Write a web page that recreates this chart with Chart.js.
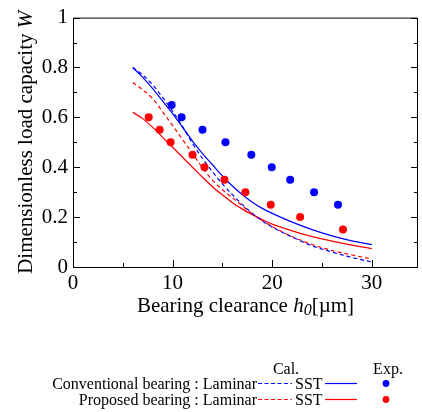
<!DOCTYPE html>
<html>
<head>
<meta charset="utf-8">
<script src="https://cdn.jsdelivr.net/npm/chart.js@4"></script>
<style>
  html, body { margin: 0; padding: 0; background: #fff; }
  #loadChart { display: block; }
</style>
</head>
<body>
<canvas id="loadChart" width="422" height="412"></canvas>
<script>
// bearing clearance h0 [um] for the calculated curves
const xCurve = [6, 7, 8, 9, 10, 11, 12, 13, 14, 15, 16, 17, 18, 19, 20, 22, 24, 26, 28, 30];

// calculated W
const convLaminar = [0.80, 0.77, 0.73, 0.68, 0.625, 0.563, 0.495, 0.435, 0.382, 0.333, 0.29, 0.25, 0.215, 0.185, 0.16, 0.12, 0.085, 0.06, 0.038, 0.02];
const convSST     = [0.80, 0.76, 0.715, 0.665, 0.615, 0.56, 0.505, 0.455, 0.41, 0.365, 0.325, 0.29, 0.26, 0.235, 0.215, 0.18, 0.15, 0.125, 0.105, 0.09];
const propLaminar = [0.74, 0.71, 0.675, 0.622, 0.567, 0.511, 0.455, 0.398, 0.348, 0.31, 0.278, 0.245, 0.213, 0.186, 0.162, 0.122, 0.09, 0.066, 0.048, 0.033];
const propSST     = [0.62, 0.595, 0.56, 0.52, 0.48, 0.44, 0.40, 0.36, 0.322, 0.289, 0.258, 0.232, 0.21, 0.19, 0.172, 0.145, 0.122, 0.104, 0.088, 0.074];

// experiments
const convExpX = [9.9, 10.9, 13.0, 15.3, 17.9, 19.95, 21.8, 24.2, 26.6];
const convExpW = [0.65, 0.60, 0.55, 0.50, 0.45, 0.40, 0.35, 0.30, 0.25];
const propExpX = [7.6, 8.7, 9.8, 12.0, 13.2, 15.2, 17.3, 19.85, 22.8, 27.1];
const propExpW = [0.60, 0.55, 0.50, 0.45, 0.40, 0.35, 0.30, 0.25, 0.20, 0.15];

// axis ticks
const xTicks = [0, 10, 20, 30];
const yTicks = [0, 0.2, 0.4, 0.6, 0.8, 1];
const yTickLabels = ['0', '0.2', '0.4', '0.6', '0.8', '1'];

const BLUE = '#0000ff';
const RED = '#ff0000';
const SERIF = '"Liberation Serif", "DejaVu Serif", serif';

const pts = (xs, ys) => xs.map((x, i) => ({ x: x, y: ys[i] }));

function curve(ys, color, dashed) {
    return {
        data: pts(xCurve, ys),
        showLine: true,
        borderColor: color,
        borderWidth: 1.2,
        borderDash: dashed ? [4, 3] : [],
        pointRadius: 0,
        cubicInterpolationMode: 'monotone',
        fill: false
    };
}

function dots(xs, ys, color) {
    return {
        data: pts(xs, ys),
        showLine: false,
        backgroundColor: color,
        borderWidth: 0,
        pointRadius: 4
    };
}

// draw text pieces with different fonts one after another
function drawRuns(ctx, runs, x, y, align) {
    let total = 0;
    runs.forEach(r => { ctx.font = r.font; total += ctx.measureText(r.text).width; });
    let cx = align === 'center' ? x - total / 2 : (align === 'right' ? x - total : x);
    ctx.textBaseline = 'alphabetic';
    ctx.textAlign = 'left';
    runs.forEach(r => {
        ctx.font = r.font;
        ctx.fillText(r.text, cx, y + (r.dy || 0));
        cx += ctx.measureText(r.text).width;
    });
}

const framePlugin = {
    id: 'frame',
    afterDraw(chart) {
        const ctx = chart.ctx;
        const a = chart.chartArea;
        const xs = chart.scales.x, ys = chart.scales.y;
        ctx.save();
        ctx.strokeStyle = '#000';
        ctx.lineWidth = 1;

        // box
        ctx.beginPath();
        ctx.rect(a.left + 0.5, a.top + 0.5, a.right - a.left - 1, a.bottom - a.top);
        ctx.stroke();

        // inward ticks
        ctx.beginPath();
        for (let i = 0; i <= 10; i++) {
            const py = Math.round(ys.getPixelForValue(i / 10)) + 0.5;
            const len = i % 2 === 0 ? 7 : 4;
            ctx.moveTo(a.left, py); ctx.lineTo(a.left + len, py);
            ctx.moveTo(a.right, py); ctx.lineTo(a.right - len, py);
        }
        for (let v = 0; v <= 30; v += 5) {
            const px = Math.round(xs.getPixelForValue(v)) + 0.5;
            const len = v % 10 === 0 ? 7 : 4;
            ctx.moveTo(px, a.bottom); ctx.lineTo(px, a.bottom - len);
        }
        ctx.stroke();

        ctx.fillStyle = '#000';
        // x title
        drawRuns(ctx, [
            { text: 'Bearing clearance ', font: '21px ' + SERIF },
            { text: 'h', font: 'italic 21px ' + SERIF },
            { text: '0', font: 'italic 16px ' + SERIF, dy: 3 },
            { text: '[\u00b5m]', font: '21px ' + SERIF }
        ], (a.left + a.right) / 2, 312, 'center');

        // y title
        ctx.save();
        ctx.translate(32, (a.top + a.bottom) / 2);
        ctx.rotate(-Math.PI / 2);
        drawRuns(ctx, [
            { text: 'Dimensionless load capacity ', font: '21px ' + SERIF },
            { text: 'W', font: 'italic 21px ' + SERIF }
        ], 0, 0, 'center');
        ctx.restore();

        // legend
        const lf = '16px ' + SERIF;
        ctx.font = lf;
        ctx.textAlign = 'center';
        ctx.fillText('Cal.', 286, 374);
        ctx.fillText('Exp.', 388, 374);
        const rows = [
            { label: 'Conventional bearing : Laminar', color: BLUE, y: 389 },
            { label: 'Proposed bearing : Laminar', color: RED, y: 405 }
        ];
        rows.forEach(r => {
            ctx.font = lf;
            ctx.fillStyle = '#000';
            ctx.textAlign = 'right';
            ctx.fillText(r.label, 257, r.y);
            ctx.textAlign = 'left';
            ctx.fillText('SST', 295, r.y);
            const ly = r.y - 5.5;
            ctx.strokeStyle = r.color;
            ctx.lineWidth = 1.2;
            ctx.setLineDash([4, 2.5]);
            ctx.beginPath(); ctx.moveTo(258, ly); ctx.lineTo(292, ly); ctx.stroke();
            ctx.setLineDash([]);
            ctx.beginPath(); ctx.moveTo(325, ly); ctx.lineTo(357, ly); ctx.stroke();
            ctx.fillStyle = r.color;
            ctx.beginPath(); ctx.arc(386, ly, 3.4, 0, Math.PI * 2); ctx.fill();
        });
        ctx.restore();
    }
};

new Chart(document.getElementById('loadChart'), {
    type: 'scatter',
    data: {
        datasets: [
            dots(convExpX, convExpW, BLUE),
            dots(propExpX, propExpW, RED),
            curve(convSST, BLUE, false),
            curve(convLaminar, BLUE, true),
            curve(propSST, RED, false),
            curve(propLaminar, RED, true)
        ]
    },
    options: {
        responsive: false,
        animation: false,
        devicePixelRatio: 1,
        layout: { padding: { top: 16, right: 1, left: 0, bottom: 0 } },
        plugins: { legend: { display: false }, tooltip: { enabled: false } },
        scales: {
            x: {
                type: 'linear',
                min: 0,
                max: 34.63,
                afterFit: s => { s.height = 145; },
                afterBuildTicks: s => { s.ticks = xTicks.map(v => ({ value: v })); },
                grid: { display: false, drawTicks: false },
                border: { display: false },
                ticks: {
                    color: '#000',
                    padding: 4,
                    maxRotation: 0,
                    font: { family: SERIF, size: 21 },
                    callback: v => String(v)
                }
            },
            y: {
                min: 0,
                max: 1,
                afterFit: s => { s.width = 73; },
                afterBuildTicks: s => { s.ticks = yTicks.map(v => ({ value: v })); },
                grid: { display: false, drawTicks: false },
                border: { display: false },
                ticks: {
                    color: '#000',
                    padding: 5,
                    font: { family: SERIF, size: 21 },
                    callback: (v, i) => yTickLabels[i]
                }
            }
        }
    },
    plugins: [framePlugin]
});
</script>
</body>
</html>
